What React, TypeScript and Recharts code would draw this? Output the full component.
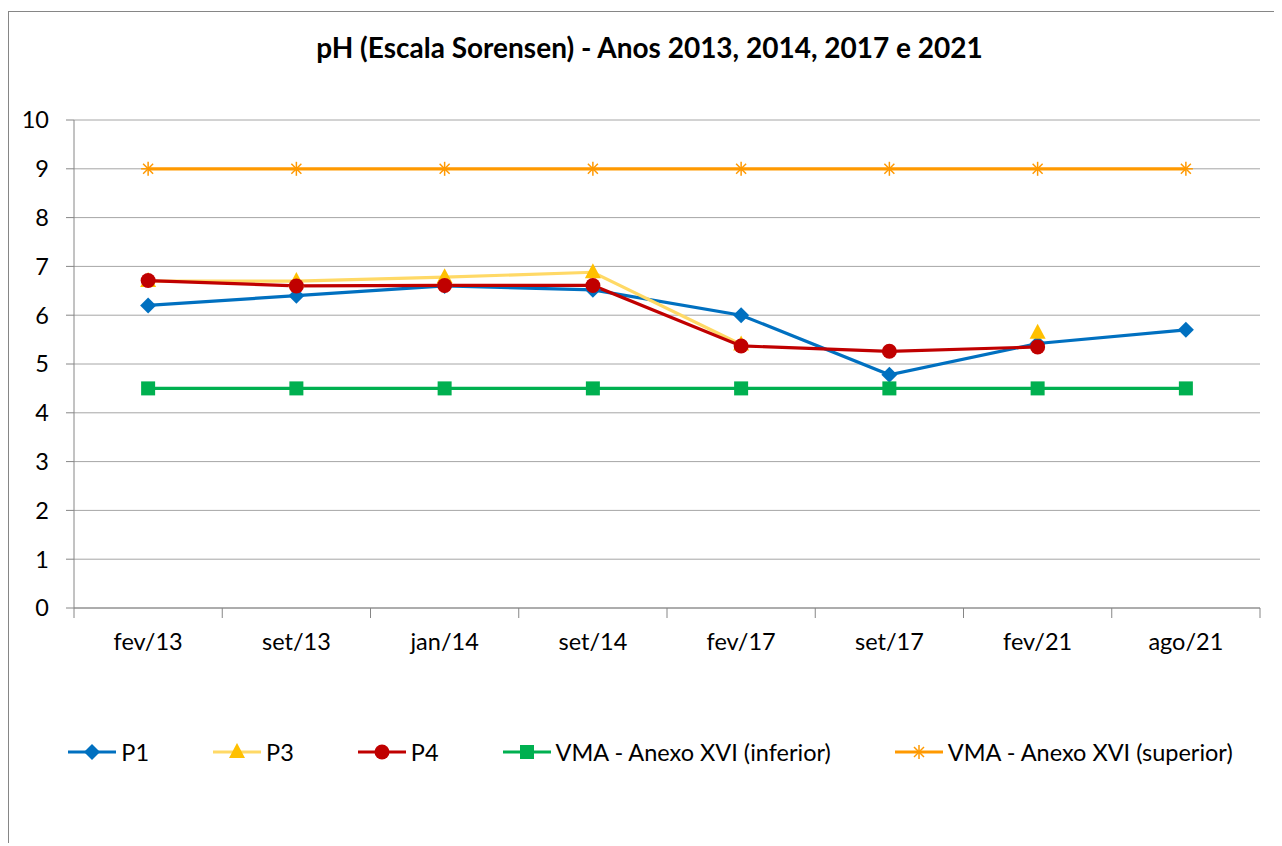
import React from 'react';
import { LineChart, Line, XAxis, YAxis, CartesianGrid, Legend } from 'recharts';

const categories = ['fev/13', 'set/13', 'jan/14', 'set/14', 'fev/17', 'set/17', 'fev/21', 'ago/21'];
const p1 = [6.2, 6.4, 6.6, 6.52, 6.0, 4.78, 5.42, 5.7];
const p3 = [6.7, 6.7, 6.78, 6.88, 5.4, null, 5.64, null];
const p4 = [6.71, 6.6, 6.61, 6.61, 5.37, 5.26, 5.35, null];
const vmaInferior = [4.5, 4.5, 4.5, 4.5, 4.5, 4.5, 4.5, 4.5];
const vmaSuperior = [9, 9, 9, 9, 9, 9, 9, 9];
const yTicks = [0, 1, 2, 3, 4, 5, 6, 7, 8, 9, 10];

const data = categories.map((c, i) => ({
  cat: c,
  p1: p1[i],
  p3: p3[i],
  p4: p4[i],
  inf: vmaInferior[i],
  sup: vmaSuperior[i],
}));

const FONT = 'Lato, "Open Sans", sans-serif';
const W = 1273;
const H = 834;
const MARGIN = { top: 108, right: 22, bottom: 178, left: 0 };
const Y_WIDTH = 65;
const BAND = (W - MARGIN.left - MARGIN.right - Y_WIDTH) / categories.length;

type Kind = 'diamond' | 'triangle' | 'circle' | 'square' | 'star';

const Marker = ({ kind, cx, cy, color }: { kind: Kind; cx: number; cy: number; color: string }) => {
  if (kind === 'diamond')
    return <polygon points={`${cx},${cy - 8} ${cx + 8},${cy} ${cx},${cy + 8} ${cx - 8},${cy}`} fill={color} />;
  if (kind === 'triangle')
    return <polygon points={`${cx},${cy - 9} ${cx + 8},${cy + 6} ${cx - 8},${cy + 6}`} fill={color} />;
  if (kind === 'circle') return <circle cx={cx} cy={cy} r={7.5} fill={color} />;
  if (kind === 'square') return <rect x={cx - 7} y={cy - 7} width={14} height={14} fill={color} />;
  return (
    <g stroke={color} strokeWidth={1.5}>
      <line x1={cx - 7} y1={cy} x2={cx + 7} y2={cy} />
      <line x1={cx} y1={cy - 7} x2={cx} y2={cy + 7} />
      <line x1={cx - 5} y1={cy - 5} x2={cx + 5} y2={cy + 5} />
      <line x1={cx - 5} y1={cy + 5} x2={cx + 5} y2={cy - 5} />
    </g>
  );
};

const series = [
  { key: 'p1', name: 'P1', line: '#0070C0', marker: '#0070C0', kind: 'diamond' as Kind },
  { key: 'p3', name: 'P3', line: '#FFD966', marker: '#FFC000', kind: 'triangle' as Kind },
  { key: 'p4', name: 'P4', line: '#C00000', marker: '#C00000', kind: 'circle' as Kind },
  { key: 'inf', name: 'VMA - Anexo XVI (inferior)', line: '#00B050', marker: '#00B050', kind: 'square' as Kind },
  { key: 'sup', name: 'VMA - Anexo XVI (superior)', line: '#FF9900', marker: '#FF9900', kind: 'star' as Kind },
];

const makeDot = (kind: Kind, color: string) => (props: any) => {
  const { cx, cy, index, value } = props;
  if (cx == null || cy == null || value == null) return <g key={`e-${index}`} />;
  return <Marker key={`m-${index}`} kind={kind} cx={cx} cy={cy} color={color} />;
};

const XTick = (props: any) => {
  const { x, y, payload, index } = props;
  const left = x - BAND / 2;
  return (
    <g>
      <line x1={left} y1={y} x2={left} y2={y + 10} stroke="#868686" strokeWidth={1} />
      {index === categories.length - 1 && (
        <line x1={x + BAND / 2} y1={y} x2={x + BAND / 2} y2={y + 10} stroke="#868686" strokeWidth={1} />
      )}
      <text x={x} y={y + 36} textAnchor="middle" dominantBaseline="middle" fontSize={23.5} fontFamily={FONT} fill="#000">
        {payload.value}
      </text>
    </g>
  );
};

const LegendContent = () => (
  <div style={{ display: 'flex', justifyContent: 'center', alignItems: 'center', gap: 64, fontFamily: FONT, fontSize: 23.5, color: '#000', paddingLeft: 10 }}>
    {series.map((s) => (
      <div key={s.key} style={{ display: 'flex', alignItems: 'center' }}>
        <svg width={48} height={20}>
          <line x1={0} y1={10} x2={48} y2={10} stroke={s.line} strokeWidth={3.2} />
          <Marker kind={s.kind} cx={24} cy={10} color={s.marker} />
        </svg>
        <span style={{ marginLeft: 5 }}>{s.name}</span>
      </div>
    ))}
  </div>
);

export default function App() {
  return (
    <div
      style={{
        position: 'relative',
        top: 3,
        width: W,
        height: H,
        borderTop: '1px solid #868686',
        borderLeft: '1px solid #868686',
        background: '#fff',
      }}
    >
      <style>{'html, body { overflow: hidden; }'}</style>
      <div
        style={{
          position: 'absolute',
          top: 18,
          left: 4,
          width: W,
          textAlign: 'center',
          fontFamily: FONT,
          fontWeight: 700,
          fontSize: 28,
          color: '#000',
        }}
      >
        pH (Escala Sorensen) - Anos 2013, 2014, 2017 e 2021
      </div>
      <LineChart width={W} height={H} data={data} margin={MARGIN}>
        <CartesianGrid vertical={false} stroke="#A6A6A6" strokeWidth={1} />
        <XAxis
          dataKey="cat"
          height={60}
          interval={0}
          padding={{ left: BAND / 2, right: BAND / 2 }}
          tickLine={false}
          tickSize={0}
          tickMargin={0}
          stroke="#868686"
          tick={<XTick />}
        />
        <YAxis
          width={Y_WIDTH}
          domain={[0, 10]}
          ticks={yTicks}
          interval={0}
          tickSize={8}
          tickMargin={17}
          stroke="#868686"
          tick={{ fontSize: 23.5, fontFamily: FONT, fill: '#000' }}
        />
        <Legend
          layout="horizontal"
          verticalAlign="middle"
          align="center"
          wrapperStyle={{ top: 726, left: 0, width: W }}
          content={<LegendContent />}
        />
        {series.map((s) => (
          <Line
            key={s.key}
            dataKey={s.key}
            name={s.name}
            type="linear"
            stroke={s.line}
            strokeWidth={3.2}
            dot={makeDot(s.kind, s.marker)}
            activeDot={false}
            connectNulls={false}
            isAnimationActive={false}
          />
        ))}
      </LineChart>
    </div>
  );
}
